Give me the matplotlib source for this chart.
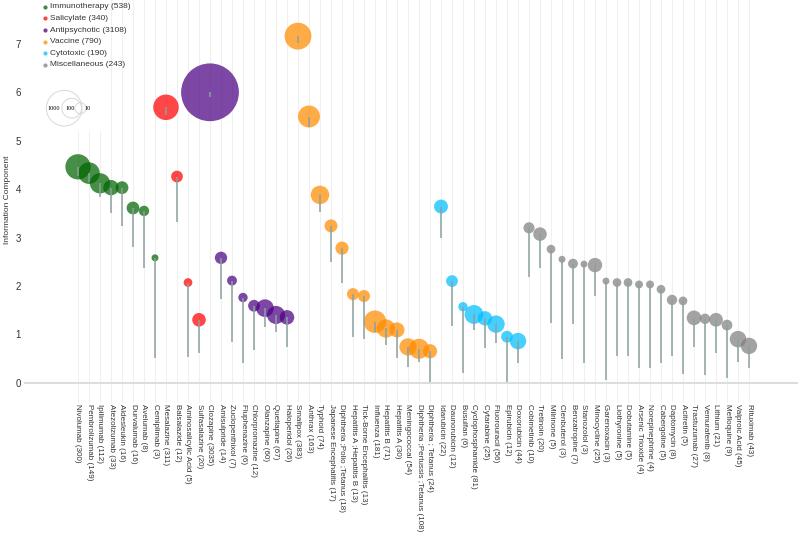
import numpy as np
import matplotlib.pyplot as plt

plt.rcParams['font.family'] = ['Liberation Sans', 'DejaVu Sans']

# drug names, report counts, group index, information component and its lower bound
drugs = ['Nivolumab', 'Pembrolizumab', 'Ipilimumab', 'Atezolizumab', 'Aldesleukin',
         'Durvalumab', 'Avelumab', 'Cemiplimab',
         'Mesalazine', 'Balsalazide', 'Aminosalicylic Acid', 'Sulfasalazine',
         'Clozapine', 'Amisulpride', 'Zuclopenthixol', 'Fluphenazine', 'Chlorpromazine',
         'Olanzapine', 'Quetiapine', 'Haloperidol',
         'Smallpox', 'Anthrax', 'Typhoid', 'Japanese Encephalitis', 'Diphtheria ;Polio ;Tetanus',
         'Hepatitis A ;Hepatitis B', 'Tick-Borne Encephalitis', 'Influenza', 'Hepatitis B',
         'Hepatitis A', 'Meningococcal', 'Diphtheria ;Pertussis ;Tetanus', 'Diphtheria ; Tetanus',
         'Idarubicin', 'Daunorubicin', 'Busulfan', 'Cyclophosphamide', 'Cytarabine',
         'Fluorouracil', 'Epirubicin', 'Doxorubicin',
         'Cobimetinib', 'Tretinoin', 'Milrinone', 'Clenbuterol', 'Benzatropine', 'Stanozolol',
         'Minocycline', 'Garenoxacin', 'Liothyronine', 'Dobutamine', 'Arsenic Trioxide',
         'Norepinephrine', 'Cabergoline', 'Daptomycin', 'Acitretin', 'Trastuzumab',
         'Vemurafenib', 'Lithium', 'Mefloquine', 'Valproic Acid', 'Rituximab']
counts = [300, 149, 112, 33, 16, 16, 8, 3,
          311, 12, 5, 20,
          3035, 14, 7, 6, 12, 60, 67, 26,
          383, 163, 74, 17, 18, 13, 13, 181, 71, 30, 54, 108, 24,
          22, 12, 6, 81, 25, 56, 12, 44,
          10, 20, 5, 3, 7, 3, 25, 3, 5, 5, 4, 4, 5, 8, 5, 27, 8, 21, 9, 45, 43]
group = [0] * 8 + [1] * 4 + [2] * 8 + [3] * 13 + [4] * 8 + [5] * 21
ic = [4.46, 4.33, 4.12, 4.03, 4.03, 3.61, 3.55, 2.58,
      5.69, 4.26, 2.07, 1.30,
      6.00, 2.58, 2.11, 1.76, 1.59, 1.54, 1.40, 1.35,
      7.16, 5.50, 3.88, 3.24, 2.78, 1.83, 1.79, 1.26, 1.12, 1.09, 0.74, 0.70, 0.65,
      3.64, 2.10, 1.57, 1.41, 1.33, 1.21, 0.95, 0.86,
      3.20, 3.07, 2.76, 2.55, 2.46, 2.45, 2.43, 2.10, 2.07, 2.07, 2.03, 2.03, 1.93,
      1.71, 1.69, 1.34, 1.32, 1.30, 1.19, 0.90, 0.76]
ic_low = [4.27, 4.15, 3.84, 3.50, 3.24, 2.81, 2.38, 0.52,
          5.53, 3.33, 0.54, 0.61,
          5.90, 1.73, 0.85, 0.40, 0.68, 1.16, 1.05, 0.74,
          7.01, 5.28, 3.53, 2.49, 2.05, 0.94, 0.90, 1.04, 0.77, 0.52, 0.33, 0.43, 0.02,
          2.98, 1.18, 0.21, 1.09, 0.71, 0.81, 0.02, 0.40,
          2.18, 2.36, 1.23, 0.50, 1.21, 0.40, 1.80, 0.06, 0.56, 0.55, 0.30, 0.30, 0.40,
          0.55, 0.18, 0.74, 0.16, 0.62, 0.10, 0.43, 0.30]

group_names = ['Immunotherapy', 'Salicylate', 'Antipsychotic', 'Vaccine', 'Cytotoxic', 'Miscellaneous']
group_totals = [538, 340, 3108, 790, 190, 243]
group_colors = ['darkgreen', 'red', 'indigo', 'darkorange', 'deepskyblue', 'gray']

size_legend = [1000, 100, 10]


def bubble_size(n):
    # radius in pixels -> scatter area in pt^2
    r = 1.6 + 1.7 * np.log(n) + 0.0045 * np.asarray(n)
    return (2 * r * 0.72) ** 2


fig = plt.figure(figsize=(7.98, 5.36), dpi=100)
ax = fig.add_axes([25 / 798, 1 - 382.7 / 536, 773 / 798, 382.7 / 536])

x = np.arange(len(drugs))
cols = [group_colors[g] for g in group]
ax.scatter(x, ic, s=bubble_size(counts), c=cols, alpha=0.72, linewidths=0, zorder=2)
ax.vlines(x, ic_low, ic, color='#8ba19e', lw=1.1, zorder=3)

ax.set_xlim(-53 / 11, 720 / 11)
ax.set_ylim(0, 382.7 / 48.4)
ax.set_axisbelow(True)
ax.grid(axis='x', color='#f0f0f0', lw=0.8)

ax.set_xticks(x)
ax.set_xticklabels([f'{d} ({c})' for d, c in zip(drugs, counts)], rotation=270,
                   fontsize=5.8, color='#333333')
ax.tick_params(axis='x', length=13.5, width=0.8, color='#f0f0f0', pad=1.5)
ax.set_yticks(range(8))
ax.tick_params(axis='y', length=0, labelsize=7, labelcolor='#333333', pad=3)
for s in ['top', 'right', 'left']:
    ax.spines[s].set_visible(False)
ax.spines['bottom'].set_color('#dddddd')
ax.spines['bottom'].set_linewidth(1.5)

fig.text(8 / 798, 1 - 200 / 536, 'Information Component', rotation=90,
         ha='center', va='center', fontsize=6, color='#333333')

# white box behind legends
ax.add_patch(plt.Rectangle((0, 1 - 130 / 382.7), 81 / 773, 130 / 382.7,
                           transform=ax.transAxes, color='white', zorder=1))


def axpos(px, py):
    return (px - 25) / 773, 1 - py / 382.7


for i, (name, tot, col) in enumerate(zip(group_names, group_totals, group_colors)):
    py = 6.8 + i * 11.6
    ax.scatter(*axpos(45, py), s=9, color=col, alpha=0.75, linewidths=0,
               transform=ax.transAxes, zorder=4, clip_on=False)
    ax.text(*axpos(50, py), f'{name} ({tot})', fontsize=6, color='#333333',
            va='center', ha='left', transform=ax.transAxes, zorder=4)

for n, cx, tx in zip(size_legend, [64.2, 71.7, 80.5], [53.8, 70.3, 87.8]):
    ax.scatter(*axpos(cx, 108.2), s=bubble_size(n), facecolors='none',
               edgecolors='#d8d8d8', linewidths=0.7, transform=ax.transAxes, zorder=4)
    ax.text(*axpos(tx, 108.2), str(n), fontsize=4.5, family='Liberation Serif',
            ha='center', va='center', transform=ax.transAxes, zorder=4)

fig.savefig('out.png', dpi=100)
